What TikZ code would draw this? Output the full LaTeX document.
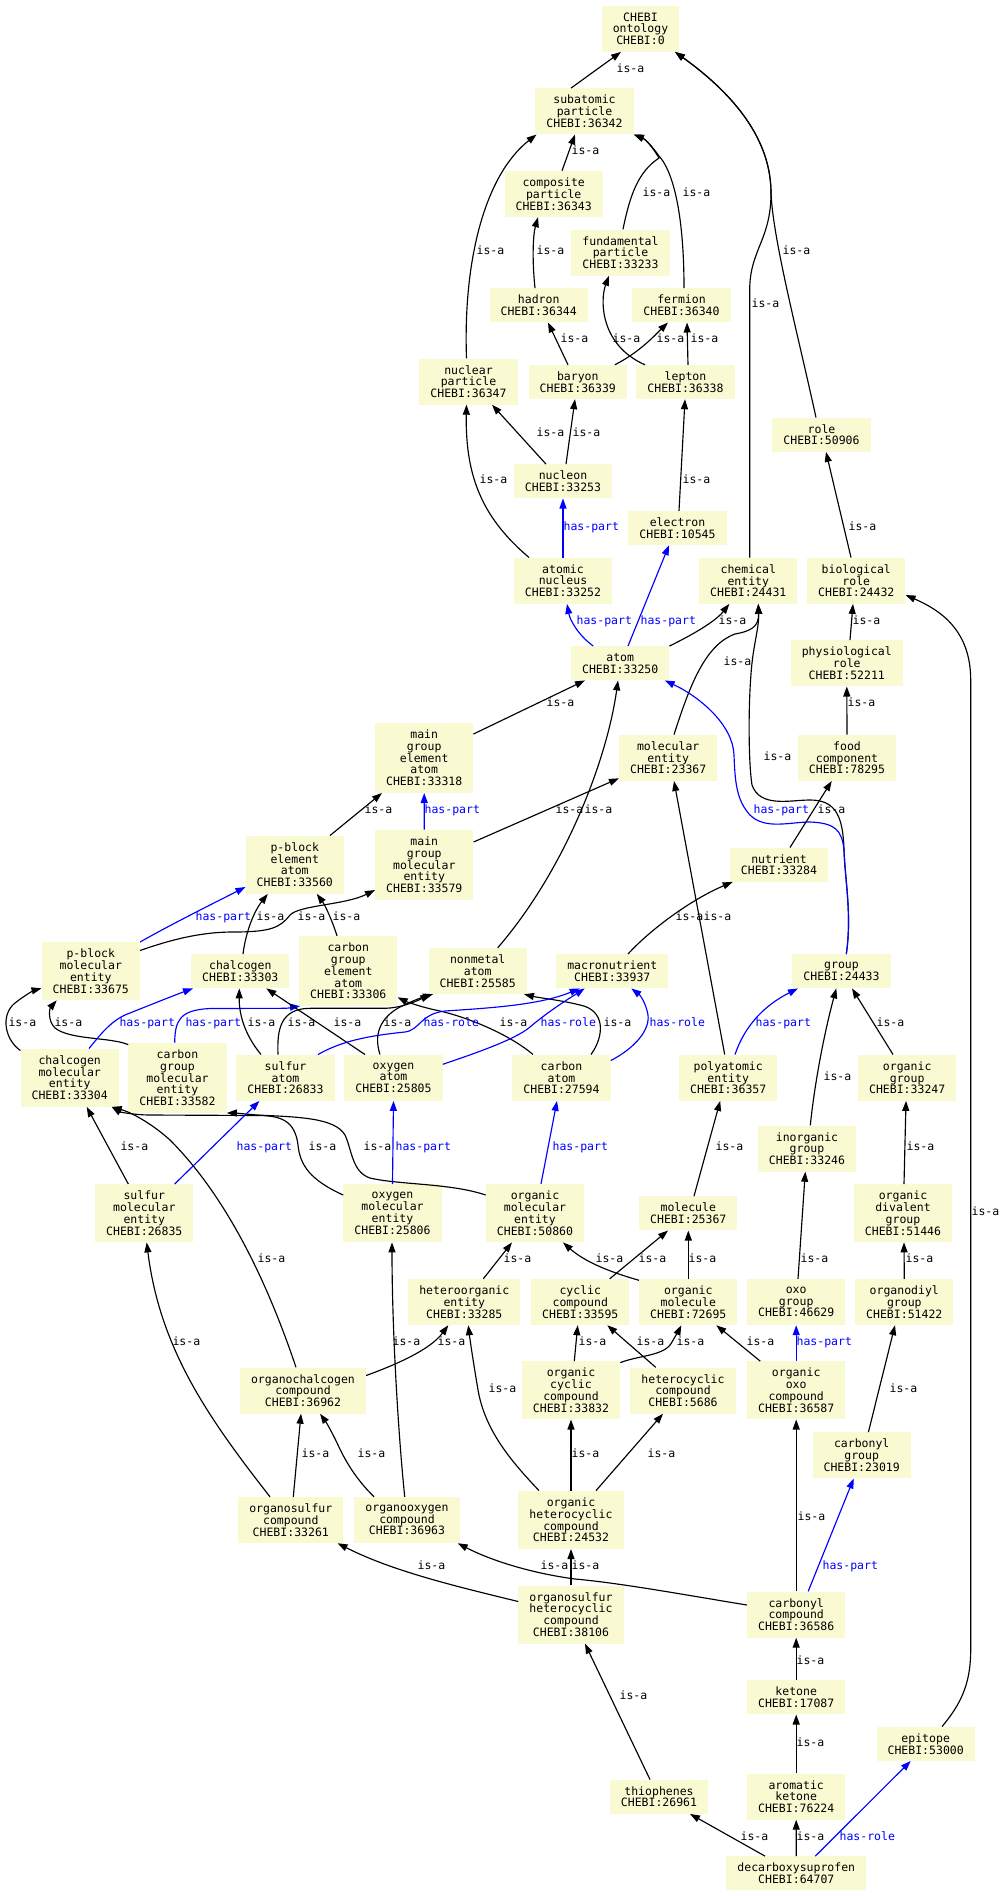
\documentclass[tikz,border=0pt]{standalone}
\usepackage{fontspec}
\setmonofont{DejaVu Sans Mono}
\usetikzlibrary{arrows.meta}
\definecolor{nodefill}{HTML}{FAFAD2}
\tikzset{
  nd/.style={fill=nodefill, inner xsep=11pt, inner ysep=2pt, align=center, font=\ttfamily\fontsize{11.5}{11.8}\selectfont},
  b2/.style={nd, minimum height=34pt},
  b3/.style={nd, minimum height=46pt},
  b4/.style={nd, minimum height=58pt},
  b5/.style={nd, minimum height=70pt},
  isa/.style={draw=black, line width=1.15pt, -{Triangle[length=10pt,width=7pt]}},
  hasp/.style={isa, draw=blue},
  lbl/.style={anchor=west, inner sep=0pt, text height=6.3pt, text depth=0pt, font=\ttfamily\fontsize{11.5}{11.8}\selectfont, text=black},
  hlbl/.style={lbl, text=blue}
}
\begin{document}
\begin{tikzpicture}[x=1pt,y=-1pt]
\fill[white] (0,0) rectangle (1006,1896);
\useasboundingbox (0,0) rectangle (1006,1896);
% nodes
\node[b3] (ont) at (640.5,28.7) {CHEBI\\ontology\\CHEBI:0};
\node[b3] (sub) at (584.5,111.3) {subatomic\\particle\\CHEBI:36342};
\node[b3] (comp) at (553.7,194) {composite\\particle\\CHEBI:36343};
\node[b3] (fund) at (620.5,252.5) {fundamental\\particle\\CHEBI:33233};
\node[b2] (hadron) at (538.7,305.3) {hadron\\CHEBI:36344};
\node[b2] (fermion) at (681.5,305.3) {fermion\\CHEBI:36340};
\node[b3] (nucpart) at (468.5,381.5) {nuclear\\particle\\CHEBI:36347};
\node[b2] (baryon) at (577.8,382) {baryon\\CHEBI:36339};
\node[b2] (lepton) at (685.5,382) {lepton\\CHEBI:36338};
\node[b2] (role) at (821.5,434.7) {role\\CHEBI:50906};
\node[b2] (nucleon) at (563,481.3) {nucleon\\CHEBI:33253};
\node[b2] (electron) at (677.5,528) {electron\\CHEBI:10545};
\node[b3] (atnuc) at (563,580.7) {atomic\\nucleus\\CHEBI:33252};
\node[b3] (chement) at (748.3,580.7) {chemical\\entity\\CHEBI:24431};
\node[b3] (biorole) at (856.3,580.7) {biological\\role\\CHEBI:24432};
\node[b2] (atom) at (620.2,663.2) {atom\\CHEBI:33250};
\node[b3] (physrole) at (846.8,663.3) {physiological\\role\\CHEBI:52211};
\node[b5] (mgea) at (424.2,757.8) {main\\group\\element\\atom\\CHEBI:33318};
\node[b3] (molent) at (668.2,757.8) {molecular\\entity\\CHEBI:23367};
\node[b3] (food) at (847,757.8) {food\\component\\CHEBI:78295};
\node[b4] (pbea) at (294.8,864.7) {p-block\\element\\atom\\CHEBI:33560};
\node[b5] (mgme) at (424.3,864.7) {main\\group\\molecular\\entity\\CHEBI:33579};
\node[b2] (nutrient) at (779,864.7) {nutrient\\CHEBI:33284};
\node[b4] (pbme) at (90.8,971.2) {p-block\\molecular\\entity\\CHEBI:33675};
\node[b2] (chalcogen) at (240.3,971.2) {chalcogen\\CHEBI:33303};
\node[b5] (cgea) at (348.3,971) {carbon\\group\\element\\atom\\CHEBI:33306};
\node[b3] (nonmetal) at (477.7,971) {nonmetal\\atom\\CHEBI:25585};
\node[b2] (macro) at (612.3,971.2) {macronutrient\\CHEBI:33937};
\node[b2] (group) at (841.5,971.2) {group\\CHEBI:24433};
\node[b4] (cme) at (69.7,1077.7) {chalcogen\\molecular\\entity\\CHEBI:33304};
\node[b5] (cgme) at (177.5,1077.8) {carbon\\group\\molecular\\entity\\CHEBI:33582};
\node[b3] (sulfur) at (285.5,1077.7) {sulfur\\atom\\CHEBI:26833};
\node[b3] (oxygen) at (393.5,1077.7) {oxygen\\atom\\CHEBI:25805};
\node[b3] (carbon) at (561.5,1077.7) {carbon\\atom\\CHEBI:27594};
\node[b3] (polyat) at (728.2,1077.7) {polyatomic\\entity\\CHEBI:36357};
\node[b3] (orggroup) at (907.2,1077.7) {organic\\group\\CHEBI:33247};
\node[b3] (inorg) at (807,1148.5) {inorganic\\group\\CHEBI:33246};
\node[b4] (sme) at (144.3,1213.2) {sulfur\\molecular\\entity\\CHEBI:26835};
\node[b4] (ome) at (392.5,1213.2) {oxygen\\molecular\\entity\\CHEBI:25806};
\node[b4] (orgme) at (535,1213.2) {organic\\molecular\\entity\\CHEBI:50860};
\node[b2] (molecule) at (688.3,1213.3) {molecule\\CHEBI:25367};
\node[b4] (odg) at (903,1213.2) {organic\\divalent\\group\\CHEBI:51446};
\node[b3] (hetorg) at (464.3,1302) {heteroorganic\\entity\\CHEBI:33285};
\node[b3] (cyclic) at (580.3,1302) {cyclic\\compound\\CHEBI:33595};
\node[b3] (orgmol) at (688.3,1302) {organic\\molecule\\CHEBI:72695};
\node[b3] (oxo) at (796.2,1302) {oxo\\group\\CHEBI:46629};
\node[b3] (diyl) at (904.3,1302) {organodiyl\\group\\CHEBI:51422};
\node[b3] (orgchal) at (303,1390.5) {organochalcogen\\compound\\CHEBI:36962};
\node[b4] (orgcyc) at (571,1390.3) {organic\\cyclic\\compound\\CHEBI:33832};
\node[b3] (hetcyc) at (683,1390.5) {heterocyclic\\compound\\CHEBI:5686};
\node[b4] (orgoxo) at (796.2,1390.3) {organic\\oxo\\compound\\CHEBI:36587};
\node[b3] (carbgrp) at (861.7,1455.3) {carbonyl\\group\\CHEBI:23019};
\node[b3] (orgS) at (290.8,1520) {organosulfur\\compound\\CHEBI:33261};
\node[b3] (orgO) at (407,1520) {organooxygen\\compound\\CHEBI:36963};
\node[b4] (orghet) at (571,1519.8) {organic\\heterocyclic\\compound\\CHEBI:24532};
\node[b4] (osh) at (571,1614.5) {organosulfur\\heterocyclic\\compound\\CHEBI:38106};
\node[b3] (carbcomp) at (796.2,1614.5) {carbonyl\\compound\\CHEBI:36586};
\node[b2] (ketone) at (796.2,1697.3) {ketone\\CHEBI:17087};
\node[b2] (epitope) at (925.7,1743.8) {epitope\\CHEBI:53000};
\node[b2] (thioph) at (659,1796.7) {thiophenes\\CHEBI:26961};
\node[b3] (aroket) at (796.2,1796.5) {aromatic\\ketone\\CHEBI:76224};
\node[b2] (decarb) at (796.3,1873.3) {decarboxysuprofen\\CHEBI:64707};
% edges: top part
\draw[isa] ([xshift=-13.5pt]sub.north) -- ([xshift=-19.5pt]ont.south) node[lbl] at (616,69) {is-a};
\draw[isa] ([xshift=-5.5pt]role.north) .. controls (798,335) and (773,240) .. (771,193) .. controls (771,140) and (735,95) .. ([xshift=34.5pt]ont.south) node[lbl] at (782,251) {is-a};
\draw[isa] ([xshift=1.4pt]chement.north) -- (749.7,290) .. controls (749.7,250) and (771,240) .. (771,193) .. controls (771,140) and (735,95) .. ([xshift=34.5pt]ont.south) node[lbl] at (751,304) {is-a};
\draw[isa] ([xshift=8.3pt]comp.north) -- ([xshift=-9.5pt]sub.south) node[lbl] at (571,151) {is-a};
\draw[isa] ([xshift=-2pt]nucpart.north) .. controls (463,260) and (485,175) .. ([xshift=-48pt]sub.south) node[lbl] at (476,251) {is-a};
\draw[isa] ([xshift=2.5pt]fund.north) .. controls (630,195) and (638,172) .. (659,158) .. controls (652,146) and (645,139) .. (sub.south east) node[lbl] at (642,193) {is-a};
\draw[isa] ([xshift=2.5pt]fermion.north) .. controls (684,210) and (672,170) .. (659,156) .. controls (652,146) and (645,139) .. (sub.south east) node[lbl] at (682,193) {is-a};
\draw[isa] ([xshift=-3.7pt]hadron.north) .. controls (532,260) and (533,235) .. ([xshift=-15.7pt]comp.south) node[lbl] at (536,251) {is-a};
\draw[isa] ([xshift=-9.8pt]baryon.north) -- ([xshift=9.3pt]hadron.south) node[lbl] at (560,339) {is-a};
\draw[isa] ([xshift=37pt]baryon.north) .. controls (640,352) and (655,335) .. ([xshift=-13.5pt]fermion.south) node[lbl] at (656,339) {is-a};
\draw[isa] ([xshift=-40.5pt]lepton.north) .. controls (600,345) and (600,300) .. ([xshift=-11.5pt]fund.south) node[lbl] at (612,339) {is-a};
\draw[isa] ([xshift=2.5pt]lepton.north) -- ([xshift=5.5pt]fermion.south) node[lbl] at (690,339) {is-a};
\draw[isa] ([xshift=-17pt]nucleon.north) -- ([xshift=23.5pt]nucpart.south) node[lbl] at (536,433) {is-a};
\draw[isa] ([xshift=3pt]nucleon.north) -- ([xshift=-2.8pt]baryon.south) node[lbl] at (572,433) {is-a};
\draw[isa] ([xshift=-34pt]atnuc.north) .. controls (485,520) and (465,480) .. ([xshift=-2pt]nucpart.south) node[lbl] at (479,480) {is-a};
\draw[hasp] (atnuc.north) -- (nucleon.south) node[hlbl] at (563,527) {has-part};
\draw[isa] ([xshift=1.5pt]electron.north) -- ([xshift=-0.5pt]lepton.south) node[lbl] at (682,480) {is-a};
\draw[isa] ([xshift=-5.3pt]biorole.north) -- ([xshift=4.5pt]role.south) node[lbl] at (848,527) {is-a};
% atom region
\draw[hasp] ([xshift=-27pt]atom.north) .. controls (578,635) and (570,620) .. ([xshift=4pt]atnuc.south) node[hlbl] at (576,621) {has-part};
\draw[hasp] ([xshift=7.8pt]atom.north) -- ([xshift=-8.5pt]electron.south) node[hlbl] at (640,621) {has-part};
\draw[isa] (atom.north east) .. controls (690,636) and (715,622) .. ([xshift=-19pt]chement.south) node[lbl] at (718,621) {is-a};
\draw[isa] ([xshift=5.8pt]molent.north) .. controls (690,685) and (705,645) .. (735,634) .. controls (752,631) and (759,626) .. ([xshift=10pt]chement.south) node[lbl] at (723,662) {is-a};
\draw[isa] ([xshift=4.8pt]group.north) .. controls (852,915) and (845,880) .. (844,850) .. controls (843,815) and (835,800) .. (810,800) .. controls (790,800) and (760,808) .. (752,785) .. controls (748,760) and (748,690) .. (753,655) .. controls (756,635) and (759,625) .. ([xshift=10pt]chement.south) node[lbl] at (763,757) {is-a};
\draw[hasp] ([xshift=4.8pt]group.north) .. controls (852,915) and (845,880) .. (844,850) .. controls (842,830) and (835,823) .. (810,822) .. controls (790,822) and (765,830) .. (750,815) .. controls (736,800) and (735,780) .. (734,755) .. controls (733,725) and (700,697) .. ([xshift=44.5pt]atom.south) node[hlbl] at (753,810) {has-part};
\draw[isa] ([xshift=3.2pt]physrole.north) -- ([xshift=-3.3pt]biorole.south) node[lbl] at (852,621) {is-a};
\draw[isa] (food.north) -- (physrole.south) node[lbl] at (847,703) {is-a};
\draw[isa] ([xshift=16.3pt]epitope.north) .. controls (960,1705) and (970.7,1685) .. (970.7,1650) -- (970.7,680) .. controls (970.7,630) and (940,610) .. ([yshift=-14.3pt]biorole.east) node[lbl] at (971,1212) {is-a};
\draw[isa] ([xshift=11pt]nutrient.north) -- ([xshift=-15.3pt]food.south) node[lbl] at (817,810) {is-a};
% element atoms
\draw[isa] ([yshift=23.8pt]mgea.east) -- ([xshift=-35.2pt]atom.south) node[lbl] at (546,703) {is-a};
\draw[isa] ([xshift=20pt]nonmetal.north) .. controls (565,870) and (607,760) .. ([xshift=-2.2pt]atom.south) node[lbl] at (555,810) {is-a};
\draw[isa] ([yshift=22.7pt]mgme.east) -- ([yshift=2.7pt]molent.south west) node[lbl] at (584,810) {is-a};
\draw[isa] ([xshift=35.2pt]pbea.north) -- ([xshift=-42.2pt]mgea.south) node[lbl] at (364,810) {is-a};
\draw[hasp] (mgme.north) -- (mgea.south) node[hlbl] at (424,810) {has-part};
\draw[hasp] (pbme.north east) .. controls (170,925) and (210,905) .. ([yshift=-22.3pt]pbea.west) node[hlbl] at (195,917) {has-part};
\draw[isa] ([yshift=20.7pt]pbme.east) .. controls (170,940) and (200,932) .. (233,932) .. controls (270,932) and (280,928) .. (290,915) .. controls (300,905) and (345,905) .. ([yshift=-25.3pt]mgme.west) node[lbl] at (297,917) {is-a};
\draw[isa] ([xshift=2.7pt]chalcogen.north) .. controls (246,930) and (255,910) .. ([xshift=-27pt]pbea.south) node[lbl] at (256,917) {is-a};
\draw[isa] ([xshift=-11.3pt]cgea.north) .. controls (332,920) and (325,905) .. ([xshift=22pt]pbea.south) node[lbl] at (332,917) {is-a};
\draw[isa] ([yshift=-2pt]cme.north west) .. controls (5,1040) and (0,1015) .. (15,1003) .. controls (25,995) and (35,990) .. ([yshift=-17.1pt]pbme.west) node[lbl] at (8,1023) {is-a};
\draw[isa] ([yshift=-2pt]cgme.north west) .. controls (110,1037) and (70,1040) .. (55,1028) .. controls (47,1020) and (50,1008) .. ([xshift=-34.1pt]pbme.south) node[lbl] at (54,1023) {is-a};
\draw[hasp] ([xshift=19.3pt]cme.north) .. controls (100,1035) and (110,1022) .. (125,1015) .. controls (150,1005) and (175,995) .. ([xshift=2pt]chalcogen.south west) node[hlbl] at (119,1023) {has-part};
\draw[hasp] ([xshift=-2.8pt]cgme.north) .. controls (175,1020) and (180,1010) .. (210,1008.5) -- (285,1008.3) .. controls (292,1008) and (297,1006.5) .. ([xshift=1pt]cgea.south west) node[hlbl] at (185,1023) {has-part};
\draw[isa] ([xshift=-24.5pt]sulfur.north) .. controls (245,1035) and (239,1015) .. ([xshift=-1pt]chalcogen.south) node[lbl] at (247,1023) {is-a};
\draw[isa] ([xshift=-28.5pt]oxygen.north) -- ([xshift=26pt]chalcogen.south) node[lbl] at (333,1023) {is-a};
\draw[isa] ([xshift=-7.5pt]sulfur.north) .. controls (277,1030) and (280,1008.5) .. (310,1008.3) -- (385,1008.3) .. controls (400,1008) and (415,1002) .. ([xshift=2pt]nonmetal.south west) node[lbl] at (287,1023) {is-a};
\draw[isa] ([xshift=-13.5pt]oxygen.north) .. controls (372,1030) and (385,1015) .. (400,1007) .. controls (410,1002) and (420,998) .. ([xshift=4.6pt]nonmetal.south west) node[lbl] at (383,1023) {is-a};
\draw[isa] ([xshift=29.5pt]carbon.north) .. controls (605,1035) and (605,1010) .. (580,1005) .. controls (560,1000) and (540,998) .. ([xshift=-3pt]nonmetal.south east) node[lbl] at (603,1023) {is-a};
\draw[isa] ([xshift=-28.5pt]carbon.north) .. controls (510,1035) and (470,1018) .. (440,1011) .. controls (420,1007) and (405,1001) .. ([yshift=-26.3pt]cgea.east) node[lbl] at (499,1023) {is-a};
\draw[hasp] ([xshift=32.5pt]sulfur.north) .. controls (340,1042) and (365,1036) .. (405,1032) .. controls (420,1030) and (420,1014) .. (445,1011) .. controls (490,1008) and (540,1005) .. ([xshift=-32.6pt]macro.south) node[hlbl] at (423,1023) {has-role};
\draw[hasp] ([yshift=13.4pt]oxygen.east) .. controls (470,1055) and (515,1040) .. (530,1027) .. controls (550,1010) and (570,998) .. ([xshift=-27.6pt]macro.south) node[hlbl] at (540,1023) {has-role};
\draw[hasp] ([yshift=-6pt]carbon.north east) .. controls (635,1048) and (650,1030) .. (648,1015) .. controls (646,1003) and (640,995) .. ([xshift=19pt]macro.south) node[hlbl] at (649,1023) {has-role};
\draw[isa] ([xshift=15.7pt]macro.north) .. controls (650,930) and (690,900) .. ([xshift=3pt]nutrient.south west) node[lbl] at (675,917) {is-a};
\draw[isa] ([xshift=-3.5pt]polyat.north) -- ([xshift=5.8pt]molent.south) node[lbl] at (703,917) {is-a};
\draw[hasp] ([xshift=6.8pt]polyat.north) .. controls (745,1025) and (765,1005) .. ([xshift=-43.5pt]group.south) node[hlbl] at (755,1023) {has-part};
\draw[isa] ([xshift=3.3pt]inorg.north) .. controls (815,1080) and (825,1030) .. ([xshift=-5.2pt]group.south) node[lbl] at (823,1077) {is-a};
\draw[isa] ([xshift=-14.2pt]orggroup.north) -- ([xshift=10.5pt]group.south) node[lbl] at (876,1023) {is-a};
% lower part
\draw[isa] ([xshift=1pt]odg.north) -- ([xshift=-1.2pt]orggroup.south) node[lbl] at (906,1147) {is-a};
\draw[isa] (diyl.north) -- ([xshift=1pt]odg.south) node[lbl] at (905,1259) {is-a};
\draw[isa] ([xshift=1.8pt]oxo.north) -- ([xshift=-1.7pt]inorg.south) node[lbl] at (800,1259) {is-a};
\draw[hasp] (orgoxo.north) -- (oxo.south) node[hlbl] at (796,1342) {has-part};
\draw[isa] ([xshift=-36pt]orgoxo.north) -- ([xshift=28pt]orgmol.south) node[lbl] at (746,1342) {is-a};
\draw[isa] ([xshift=6.7pt]carbgrp.north) -- ([xshift=-9.3pt]diyl.south) node[lbl] at (889,1389) {is-a};
\draw[isa] ([xshift=5.7pt]molecule.north) -- ([xshift=-8pt]polyat.south) node[lbl] at (715,1147) {is-a};
\draw[isa] (orgmol.north) -- (molecule.south) node[lbl] at (688,1259) {is-a};
\draw[isa] ([xshift=29.4pt]cyclic.north) -- ([xshift=-20.3pt]molecule.south) node[lbl] at (638,1259) {is-a};
\draw[isa] ([yshift=-1.5pt]orgmol.north west) .. controls (610,1272) and (585,1262) .. ([xshift=28pt]orgme.south) node[lbl] at (595,1259) {is-a};
\draw[hasp] ([xshift=6pt]orgme.north) -- ([xshift=-4.5pt]carbon.south) node[hlbl] at (552,1147) {has-part};
\draw[isa] ([xshift=19pt]hetorg.north) -- ([xshift=-23pt]orgme.south) node[lbl] at (503,1259) {is-a};
\draw[isa] ([yshift=-11pt]orgme.north west) .. controls (450,1183) and (400,1185) .. (370,1178) .. controls (352,1172) and (352,1150) .. (345,1135) .. controls (335,1118) and (300,1117) .. (257,1115) .. controls (245,1114) and (235,1113) .. (cgme.south east) node[lbl] at (363,1147) {is-a};
\draw[isa] ([yshift=-11pt]ome.north west) .. controls (310,1180) and (300,1165) .. (298,1145) .. controls (295,1120) and (280,1116) .. (260,1115.5) -- (150,1115) .. controls (135,1115) and (120,1112) .. ([xshift=42pt]cme.south) node[lbl] at (308,1147) {is-a};
\draw[isa] ([xshift=-7pt]orgchal.north) .. controls (270,1290) and (230,1200) .. (170,1140) .. controls (150,1122) and (130,1112) .. ([xshift=42pt]cme.south) node[lbl] at (257,1259) {is-a};
\draw[isa] ([xshift=-16pt]sme.north) -- ([xshift=17pt]cme.south) node[lbl] at (120,1147) {is-a};
\draw[hasp] ([xshift=30.4pt]sme.north) -- ([xshift=-26pt]sulfur.south) node[hlbl] at (236,1147) {has-part};
\draw[hasp] (ome.north) -- (oxygen.south) node[hlbl] at (395,1147) {has-part};
\draw[isa] ([xshift=-20.8pt]orgS.north) .. controls (210,1420) and (160,1350) .. ([xshift=2.4pt]sme.south) node[lbl] at (172,1342) {is-a};
\draw[isa] ([xshift=2.5pt]orgS.north) -- ([xshift=-2pt]orgchal.south) node[lbl] at (301,1454) {is-a};
\draw[isa] ([xshift=-33pt]orgO.north) .. controls (355,1478) and (345,1460) .. (338,1445) .. controls (332,1432) and (326,1422) .. ([xshift=17pt]orgchal.south) node[lbl] at (357,1454) {is-a};
\draw[isa] ([xshift=-2.3pt]orgO.north) .. controls (397,1420) and (392,1320) .. ([xshift=-0.5pt]ome.south) node[lbl] at (392,1342) {is-a};
\draw[isa] ([yshift=15pt]orgchal.east) .. controls (395,1365) and (430,1350) .. ([xshift=-16pt]hetorg.south) node[lbl] at (437,1342) {is-a};
\draw[isa] ([xshift=-32pt]orghet.north) .. controls (510,1460) and (485,1430) .. (478,1390) .. controls (473,1360) and (470,1340) .. ([xshift=4pt]hetorg.south) node[lbl] at (488,1389) {is-a};
\draw[isa] ([xshift=3.3pt]orgcyc.north) -- ([xshift=-2.6pt]cyclic.south) node[lbl] at (578,1342) {is-a};
\draw[isa] ([xshift=-27.3pt]hetcyc.north) -- ([xshift=27pt]cyclic.south) node[lbl] at (636,1342) {is-a};
\draw[isa] ([yshift=-1.5pt]orgcyc.north east) .. controls (640,1355) and (665,1356) .. (672,1342) .. controls (676,1335) and (679,1330) .. ([xshift=-7pt]orgmol.south) node[lbl] at (676,1342) {is-a};
\draw[isa] (orghet.north) -- (orgcyc.south) node[lbl] at (571,1454) {is-a};
\draw[isa] ([xshift=25pt]orghet.north) -- ([xshift=-20pt]hetcyc.south) node[lbl] at (647,1454) {is-a};
\draw[isa] ([yshift=13pt]osh.west) .. controls (450,1585) and (390,1570) .. ([xshift=-6pt]orgS.south east) node[lbl] at (417,1566) {is-a};
\draw[isa] (osh.north) -- (orghet.south) node[lbl] at (571,1566) {is-a};
\draw[isa] ([yshift=9.5pt]carbcomp.west) .. controls (680,1594) and (620,1583) .. (575,1579) .. controls (530,1573) and (490,1560) .. ([xshift=-2pt]orgO.south east) node[lbl] at (540,1566) {is-a};
\draw[isa] (carbcomp.north) -- (orgoxo.south) node[lbl] at (797,1517) {is-a};
\draw[hasp] ([xshift=12pt]carbcomp.north) -- ([xshift=-8pt]carbgrp.south) node[hlbl] at (822,1566) {has-part};
\draw[isa] (ketone.north) -- (carbcomp.south) node[lbl] at (796,1661) {is-a};
\draw[isa] (aroket.north) -- (ketone.south) node[lbl] at (796,1743) {is-a};
\draw[isa] ([xshift=-9pt]thioph.north) -- ([xshift=14pt]osh.south) node[lbl] at (619,1696) {is-a};
\draw[isa] ([xshift=-31.3pt]decarb.north) -- ([xshift=31pt]thioph.south) node[lbl] at (740,1837) {is-a};
\draw[isa] (decarb.north) -- (aroket.south) node[lbl] at (796,1837) {is-a};
\draw[hasp] ([xshift=19pt]decarb.north) -- ([xshift=-15pt]epitope.south) node[hlbl] at (839,1837) {has-role};
\end{tikzpicture}
\end{document}
